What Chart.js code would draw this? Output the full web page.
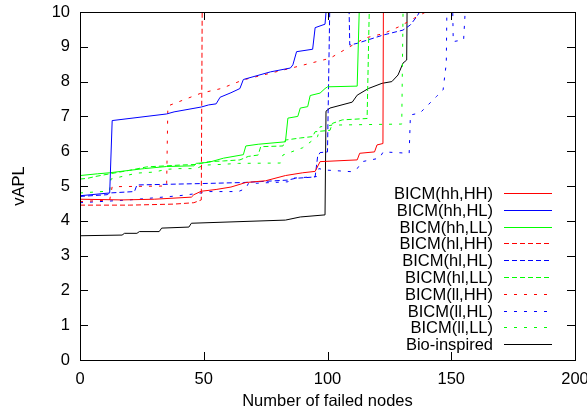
<!DOCTYPE html>
<html>
<head>
<meta charset="utf-8">
<script src="https://cdn.jsdelivr.net/npm/chart.js@4.4.1/dist/chart.umd.min.js"></script>
<style>
  html, body { margin: 0; padding: 0; background: #fff; }
  #wrap { width: 587px; height: 417px; }
</style>
</head>
<body>
<div id="wrap"><canvas id="chart" width="587" height="417"></canvas></div>
<script>
// ============ DATA ============
const xTicks = [0, 50, 100, 150, 200];
const yTicks = [0, 1, 2, 3, 4, 5, 6, 7, 8, 9, 10];
const seriesNames = ['BICM(hh,HH)', 'BICM(hh,HL)', 'BICM(hh,LL)', 'BICM(hl,HH)', 'BICM(hl,HL)',
  'BICM(hl,LL)', 'BICM(ll,HH)', 'BICM(ll,HL)', 'BICM(ll,LL)', 'Bio-inspired'];

// [failed nodes, vAPL] -- values above 10 are clipped by the plot area
const hhHH = [[0,4.62],[17,4.6],[30,4.62],[45,4.68],[46,4.75],[49,4.85],[55,4.9],[61,4.97],[67,5.1],[75,5.15],
  [83,5.3],[90,5.38],[95,5.42],[97,5.7],[112,5.75],[113,5.94],[119,5.98],[120,6.18],[122.4,6.22],[122.6,10.5]];
const hhHL = [[0,4.72],[12,4.8],[13,6.88],[35,7.07],[38,7.13],[49,7.27],[52,7.33],[55,7.36],[56.6,7.55],[61,7.68],
  [64.6,7.8],[66,8.06],[77,8.28],[85,8.39],[86,8.48],[87.5,8.86],[94,8.93],[95,9.55],[99,9.65],[100,10.5]];
const hhLL = [[0,5.3],[7,5.35],[12,5.38],[20,5.45],[26,5.5],[35,5.56],[46,5.58],[47,5.65],[52,5.68],[58,5.8],
  [66,5.9],[67,6.15],[72,6.2],[83,6.27],[84,6.95],[88,7.0],[89,7.24],[92,7.28],[93,7.6],[97,7.67],[99,7.8],
  [100,7.85],[112,7.87],[113,10.5]];
const hlHH = [[0,4.45],[20,4.45],[38,4.48],[46,4.52],[49,4.6],[49.4,10.5]];
const hlHL = [[0,4.7],[11,4.75],[12,4.8],[22,4.84],[23,5.03],[49,5.07],[66,5.1],[84,5.17],[87,5.22],[95,5.26],
  [96,5.84],[97,5.96],[100,5.98],[101,10.5],[108.6,10.5],[109,9.05],[112,9.1],[122.6,9.34],[130.5,9.48],
  [133.5,9.63],[136,9.86],[139,10.2]];
const hlLL = [[0,5.2],[3,5.22],[6,5.27],[12,5.35],[20,5.45],[27,5.55],[35,5.58],[40,5.6],[47,5.62],[52,5.7],
  [58,5.72],[64.6,5.75],[68,5.85],[72,5.89],[73,6.13],[82,6.15],[83,6.32],[89,6.38],[94,6.42],[95,6.56],
  [101,6.6],[102,6.8],[106,6.9],[116,6.94],[117,10.5]];
const llHH = [[0,4.55],[12,4.6],[13,4.98],[35,5.0],[35.5,7.3],[49,7.67],[57,7.8],[66,8.05],[86,8.4],[101,8.67],
  [108,8.96],[115,9.25],[122.6,9.38],[129,9.58],[135,9.82],[141,10.05]];
const llHL = [[0,4.52],[20,4.6],[40,4.72],[48,4.79],[52,4.84],[64,4.84],[67,4.93],[68,5.07],[84,5.12],[85,5.22],
  [95.5,5.27],[96.5,5.5],[99,5.46],[110,5.41],[112,5.5],[114,5.7],[121,5.8],[122.5,5.98],[133,5.94],
  [133.5,7.04],[137.4,7.1],[144,7.57],[146.7,7.76],[148,8.53],[148.3,10.5],[150.5,10.5],[150.8,9.15],
  [155,9.2],[156,10.5]];
const llLL = [[0,4.8],[11,4.85],[12,4.87],[12.5,5.2],[23,5.37],[30,5.4],[35,5.48],[40,5.5],[47,5.5],[50,5.6],
  [57,5.62],[64,5.65],[81,5.66],[82,5.89],[90,6.1],[96,6.42],[97,6.7],[102,6.75],[130,6.78],[130.6,10.5]];
const bio = [[0,3.57],[17,3.59],[18,3.64],[23,3.64],[24,3.69],[32,3.69],[33,3.79],[44,3.82],[45,3.93],[83,4.02],
  [89,4.11],[99,4.17],[99.4,7.15],[101,7.24],[110,7.41],[112,7.61],[116.5,7.8],[122,7.95],[126,8.0],[128.5,8.19],
  [130.5,8.53],[132,8.62],[132.2,10.5]];

const allSeries = [hhHH, hhHL, hhLL, hlHH, hlHL, hlLL, llHH, llHL, llLL, bio];
const seriesColors = ['#ff0000', '#0000ff', '#00ff00', '#ff0000', '#0000ff', '#00ff00', '#ff0000', '#0000ff', '#00ff00', '#000000'];
const seriesDash = [[], [], [], [5, 3], [5, 3], [5, 3], [3, 7], [3, 7], [3, 7], []];

// ============ PLUGINS ============
const FONT = 'Liberation Sans, Arial, sans-serif';
const FSIZE = 16.5;

// gnuplot style box with inward ticks on all four sides
const framePlugin = {
  id: 'frame',
  afterDatasetsDraw(chart) {
    const { ctx, chartArea: a, scales: { x, y } } = chart;
    ctx.save();
    ctx.strokeStyle = '#000';
    ctx.lineWidth = 1;
    ctx.setLineDash([]);
    ctx.beginPath();
    xTicks.forEach(v => {
      const px = Math.round(x.getPixelForValue(v)) + 0.5;
      ctx.moveTo(px, a.bottom); ctx.lineTo(px, a.bottom - 8);
      ctx.moveTo(px, a.top); ctx.lineTo(px, a.top + 8);
    });
    yTicks.forEach(v => {
      const py = Math.round(y.getPixelForValue(v)) + 0.5;
      ctx.moveTo(a.left, py); ctx.lineTo(a.left + 8, py);
      ctx.moveTo(a.right, py); ctx.lineTo(a.right - 8, py);
    });
    ctx.stroke();
    ctx.strokeRect(Math.round(a.left) + 0.5, Math.round(a.top) + 0.5,
      Math.round(a.right - a.left), Math.round(a.bottom - a.top));
    ctx.restore();
  }
};

// legend inside the plot: label right aligned, sample line to the right
const keyPlugin = {
  id: 'key',
  afterDraw(chart) {
    const { ctx } = chart;
    ctx.save();
    ctx.font = FSIZE + 'px ' + FONT;
    ctx.textAlign = 'right';
    ctx.textBaseline = 'middle';
    seriesNames.forEach((name, i) => {
      const yy = Math.round(193 + i * 16.8) + 0.5;
      ctx.fillStyle = '#000';
      ctx.fillText(name, 493, yy + 1);
      ctx.strokeStyle = seriesColors[i];
      ctx.lineWidth = 1;
      ctx.setLineDash(seriesDash[i]);
      ctx.beginPath();
      ctx.moveTo(504, yy); ctx.lineTo(552, yy);
      ctx.stroke();
    });
    ctx.restore();
  }
};

// ============ CHART ============
const datasets = allSeries.map((s, i) => ({
  label: seriesNames[i],
  data: s.map(p => ({ x: p[0], y: p[1] })),
  borderColor: seriesColors[i],
  borderDash: seriesDash[i],
  borderWidth: 1,
  pointRadius: 0,
  tension: 0,
  fill: false
}));

new Chart(document.getElementById('chart'), {
  type: 'line',
  data: { datasets },
  options: {
    responsive: false,
    animation: false,
    layout: { padding: 0 },
    plugins: { legend: { display: false }, tooltip: { enabled: false } },
    scales: {
      x: {
        type: 'linear', min: 0, max: 200,
        afterFit: s => { s.height = 57; s.paddingLeft = 0; s.paddingRight = 12; },
        afterBuildTicks: s => { s.ticks = xTicks.map(v => ({ value: v })); },
        grid: { display: false, drawTicks: false },
        border: { display: false },
        ticks: { color: '#000', padding: 10, font: { family: FONT, size: FSIZE } },
        title: { display: true, text: 'Number of failed nodes', color: '#000',
          padding: { top: 0, bottom: 6 }, font: { family: FONT, size: FSIZE } }
      },
      y: {
        type: 'linear', min: 0, max: 10,
        afterFit: s => { s.width = 80; s.paddingTop = 12; s.paddingBottom = 0; },
        afterBuildTicks: s => { s.ticks = yTicks.map(v => ({ value: v })); },
        grid: { display: false, drawTicks: false },
        border: { display: false },
        ticks: { color: '#000', padding: 10, font: { family: FONT, size: FSIZE } },
        title: { display: true, text: 'vAPL', color: '#000',
          padding: { top: 10, bottom: 0 }, font: { family: FONT, size: FSIZE } }
      }
    }
  },
  plugins: [framePlugin, keyPlugin]
});
</script>
</body>
</html>
